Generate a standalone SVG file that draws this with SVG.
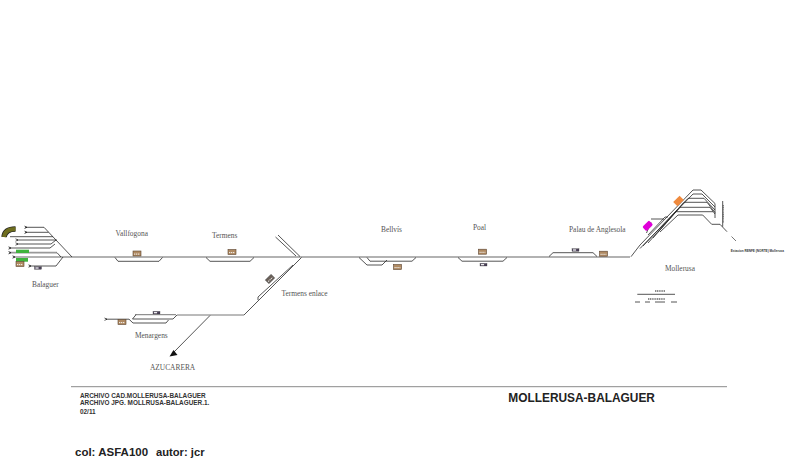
<svg xmlns="http://www.w3.org/2000/svg" width="800" height="466" viewBox="0 0 800 466">
<defs>
<style>
.main{fill:none;stroke:#999;stroke-width:1.7}
.t{fill:none;stroke:#2a2a2a;stroke-width:.8}
.g{fill:none;stroke:#777;stroke-width:1}
.smudge{fill:none;stroke:#666;stroke-width:1.600;stroke-dasharray:1.200 .6}
.lbl{font-family:"Liberation Serif",serif;font-size:7.4px;fill:#555}
.b{font-family:"Liberation Sans",sans-serif;font-weight:bold;fill:#333}
.tiny{font-family:"Liberation Sans",sans-serif;font-size:3.1px;fill:#333;font-weight:bold}
.big{font-family:"Liberation Sans",sans-serif;font-weight:bold;fill:#222}
.bld{fill:#b08a62;stroke:#5a4330;stroke-width:.6}
.pl{fill:#4a4058;stroke:#333;stroke-width:.3}
</style>
<g id="bldg"><rect x="-4" y="-2.5" width="8" height="5" class="bld"/><path d="M-3 .6h6" stroke="#f2f2f2" stroke-width="1" stroke-dasharray="1.2 .7"/></g>
<g id="plat"><rect x="-3.5" y="-1.3" width="7" height="2.6" class="pl"/><rect x="-2.6" y="-.6" width="3.2" height="1.2" fill="#fff"/></g>
<g id="buf"><path d="M-1.5 -1.2L1 0L-1.5 1.2" fill="none" stroke="#111" stroke-width=".7"/></g>
</defs>
<rect width="800" height="466" fill="#fff"/>
<g id="connectors">
<path class="main" d="M13 257H630"/>
<path class="main" d="M9 252.7H57"/>
<path class="t" d="M25 227.3H44L72 257M25 232.3H48.5M10 236.7H53M17 240H57M17 244H51L56 240M9 248H50L55 244M57 252.7L61 257M29 266H56L63 257"/>
<path class="t" d="M115 257.5l3 3.8H159l3.5-3.8M206 257.5l4 3.8H250l4-3.8"/>
<path class="t" d="M367 257.5l3 3.7H412l4-3.7M359 257.5L367 265H382L387 260"/>
<path class="t" d="M458 257.5l4 3.7H503l4-3.7M549 256.5L553 252.7H593L597 256.5"/>
<path class="t" d="M296 256L275.5 237M300 256.5L278 235"/>
<path class="t" d="M301.5 257.5L244 315M293 265L258 297V300"/>
<path class="g" d="M177 315H244M135 314.7H176"/>
<path class="t" d="M106 319.2H129L133 323H166L168.5 320M132.5 319H173L177 315M132.5 319L136 314.7"/>
<path class="t" d="M210 315.5L173 353"/>
<path d="M169.5 356.5l8-1.500-4-5z" fill="#111"/>
<path class="t" d="M631 256.700L640 245L693 190H701L715 203.500V218M640 248.500L693 194H702L715 207M643 246L688 198.300H704L715 210M648 243L684 202.300H707L715 212.500M653 238L680 207.300H710L715 214M658 232L676 211.700H713M660 232L678 215H702.700L711.700 224.300H720"/>
<path class="t" d="M648 235L665 217H668M651 219H664M646.500 233L651 222"/>
<path class="t" d="M720 224.300L727 231.700"/>
<path class="g" d="M731.500 236.500L736 241"/>
<path class="t" d="M722.700 201V226.700"/>
<path class="t" d="M637.300 294.300H675"/>
<path class="t" d="M635 302H640M645 302H650M655 302H665M671 302H677" stroke-width="1"/>
</g>
<g id="balaguer">
<path d="M4 237Q5 229 15.500 229" fill="none" stroke="#222" stroke-width="5.500"/>
<path d="M4 237Q5 229 15.500 229" fill="none" stroke="#6f6e1f" stroke-width="4"/>
<rect x="16" y="249.700" width="13" height="3.300" fill="#3fb33c"/>
<rect x="16" y="258" width="12" height="3.700" fill="#3fb33c"/>
<use href="#bldg" x="20" y="264"/>
<use href="#plat" x="38" y="268"/>
<use href="#buf" x="26" y="227.300"/><use href="#buf" x="26" y="232.300"/><use href="#buf" x="17" y="240"/><use href="#buf" x="17" y="244"/><use href="#buf" x="10" y="248"/><use href="#buf" x="10" y="252.700"/><use href="#buf" x="14" y="257"/><use href="#buf" x="30" y="266"/>
<text class="lbl" x="32" y="287">Balaguer</text>
</g>
<g id="vallfogona"><text class="lbl" x="115.500" y="236">Vallfogona</text><use href="#bldg" x="137" y="253.500"/></g>
<g id="termens"><text class="lbl" x="212" y="238">Termens</text><use href="#bldg" x="232" y="252"/></g>
<g id="bellvis"><text class="lbl" x="381" y="232">Bellvís</text><use href="#bldg" x="397.500" y="267"/></g>
<g id="poal"><text class="lbl" x="473" y="229.500">Poal</text><use href="#bldg" x="482.500" y="251.700"/><use href="#plat" x="483.500" y="264.700"/></g>
<g id="palau"><text class="lbl" x="569" y="231.700">Palau de Anglesola</text><use href="#plat" x="575.500" y="250"/><use href="#bldg" x="603.500" y="253.700"/></g>
<g id="termens-enlace"><text class="lbl" x="281.500" y="295.700">Termens enlace</text><g transform="translate(270 279) rotate(-45)"><rect x="-4" y="-2.500" width="8" height="5" fill="#6b6058" stroke="#333" stroke-width=".6"/><path d="M-3 .6h6" stroke="#eee" stroke-width="1" stroke-dasharray="1.200 .7"/></g></g>
<g id="menargens"><text class="lbl" x="135" y="338">Menargens</text><use href="#bldg" x="122" y="322"/><use href="#plat" x="156.500" y="312.700"/><use href="#buf" x="106" y="319.200"/></g>
<g id="azucarera"><text class="lbl" x="150" y="370">AZUCARERA</text></g>
<g id="mollerusa">
<rect x="674" y="198" width="9" height="6" fill="#ef8a3e" transform="rotate(-45 678.500 201)"/>
<rect x="643" y="223" width="9.500" height="6" rx="1.500" fill="#e000d8" transform="rotate(-45 647.500 226)"/>
<text class="lbl" x="665" y="270.500">Mollerusa</text>
<text class="tiny" x="730.700" y="252">Estacion RENFE (NORTE) Mollerusa</text>
<path class="smudge" d="M723 205V223M655 291H665M648 299H665"/>
</g>
<g id="cartouche">
<path d="M71 386.700H727" stroke="#8a8a8a" stroke-width="1"/>
<text class="b" x="80" y="397.500" font-size="6.400">ARCHIVO CAD.MOLLERUSA-BALAGUER</text>
<text class="b" x="80" y="405" font-size="6.400">ARCHIVO JPG. MOLLRUSA-BALAGUER.1.</text>
<text class="b" x="80" y="413.500" font-size="6.400">02/11</text>
<text class="big" x="75" y="455.500" font-size="11.500">col: ASFA100</text>
<text class="big" x="156" y="455.500" font-size="11.200">autor: jcr</text>
<text class="big" x="508.300" y="401.700" font-size="11.900">MOLLERUSA-BALAGUER</text>
</g>
</svg>
